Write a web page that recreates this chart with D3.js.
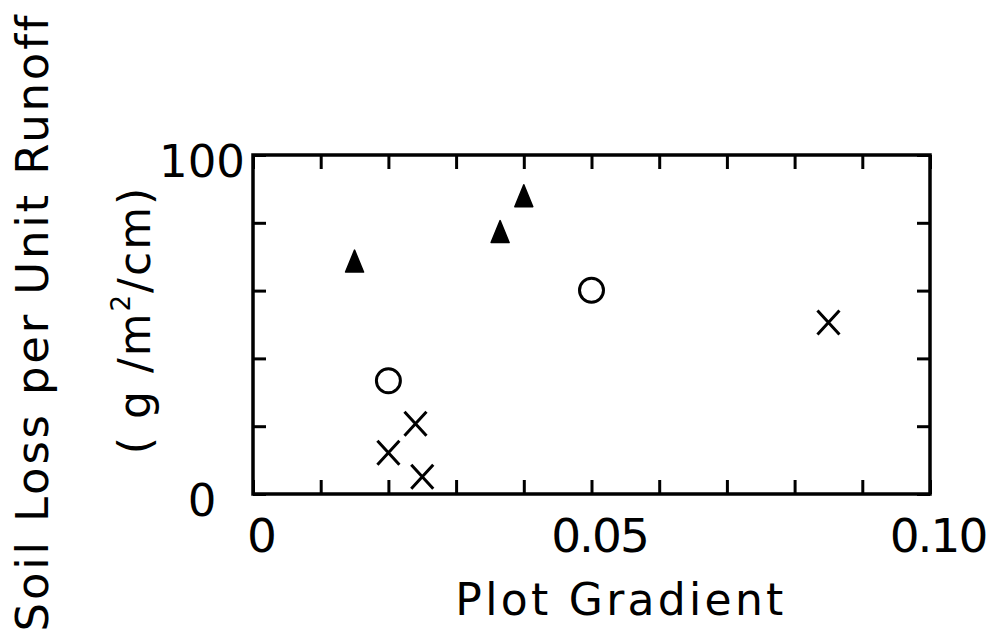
<!DOCTYPE html>
<html>
<head>
<meta charset="utf-8">
<script src="https://cdn.jsdelivr.net/npm/d3@7"></script>
<style>
  html, body { margin: 0; padding: 0; background: #fff; }
  svg { display: block; }
  text { font-family: "DejaVu Sans", sans-serif; fill: #000; }
</style>
</head>
<body>
<svg id="chart" width="987" height="634"></svg>
<script>
// Plot gradient (x) against soil loss per unit runoff (y), three groups of plots
const triangleX = [0.015, 0.0365, 0.040];
const triangleY = [68.7, 77.4, 88.0];
const circleX = [0.020, 0.050];
const circleY = [33.4, 60.1];
const crossX = [0.020, 0.024, 0.025, 0.085];
const crossY = [12.2, 20.7, 5.1, 50.6];

const xTickValues = [0, 0.01, 0.02, 0.03, 0.04, 0.05, 0.06, 0.07, 0.08, 0.09, 0.10];
const yTickValues = [0, 20, 40, 60, 80, 100];
const xLabelValues = [0, 0.05, 0.10];
const xLabelText = ["0", "0.05", "0.10"];
const yLabelValues = [0, 100];
const yLabelText = ["0", "100"];

const svg = d3.select("#chart");
const plotLeft = 253, plotRight = 930, plotTop = 155, plotBottom = 494;

const x = d3.scaleLinear().domain([0, 0.10]).range([plotLeft, plotRight]);
const y = d3.scaleLinear().domain([0, 100]).range([plotBottom, plotTop]);

// inward ticks on all four sides
function styleAxis(g) {
  g.selectAll(".domain").remove();
  g.selectAll(".tick text").remove();
  g.selectAll(".tick line").attr("stroke", "#000").attr("stroke-width", 3);
}
svg.append("g").attr("transform", `translate(0,${plotBottom})`)
  .call(d3.axisBottom(x).tickValues(xTickValues).tickSize(-14)).call(styleAxis);
svg.append("g").attr("transform", `translate(0,${plotTop})`)
  .call(d3.axisTop(x).tickValues(xTickValues).tickSize(-14)).call(styleAxis);
svg.append("g").attr("transform", `translate(${plotLeft},0)`)
  .call(d3.axisLeft(y).tickValues(yTickValues).tickSize(-13)).call(styleAxis);
svg.append("g").attr("transform", `translate(${plotRight},0)`)
  .call(d3.axisRight(y).tickValues(yTickValues).tickSize(-13)).call(styleAxis);

// frame
svg.append("rect")
  .attr("x", x(0)).attr("y", y(100))
  .attr("width", x(0.10) - x(0)).attr("height", y(0) - y(100))
  .attr("fill", "none").attr("stroke", "#000").attr("stroke-width", 3.5);

// tick labels
svg.selectAll(".xlab").data(xLabelValues).join("text")
  .attr("class", "xlab")
  .attr("x", d => x(d) + 8).attr("y", plotBottom + 58)
  .attr("text-anchor", "middle").attr("font-size", 47)
  .attr("letter-spacing", -2)
  .text((d, i) => xLabelText[i]);

svg.selectAll(".ylab").data(yLabelValues).join("text")
  .attr("class", "ylab")
  .attr("x", 202).attr("y", d => y(d) + 22)
  .attr("text-anchor", "middle").attr("font-size", 45)
  .text((d, i) => yLabelText[i]);

// axis titles
svg.append("text")
  .attr("x", 621).attr("y", 615)
  .attr("text-anchor", "middle").attr("font-size", 44)
  .attr("letter-spacing", 3.3)
  .text("Plot Gradient");

svg.append("text")
  .attr("transform", "translate(48,322) rotate(-90)")
  .attr("text-anchor", "middle").attr("font-size", 45)
  .attr("letter-spacing", 2.8)
  .text("Soil Loss per Unit Runoff");

const unit = svg.append("text")
  .attr("transform", "translate(150,320) rotate(-90)")
  .attr("text-anchor", "middle").attr("font-size", 44)
  .attr("letter-spacing", 2);
unit.append("tspan").text("( g /m");
unit.append("tspan").attr("font-size", 26).attr("dy", -20).text("2");
unit.append("tspan").attr("dy", 20).text("/cm)");

// markers
svg.selectAll(".tri").data(triangleX.map((v, i) => [v, triangleY[i]])).join("path")
  .attr("class", "tri")
  .attr("d", "M0,-11 L9,11 L-9,11 Z")
  .attr("transform", d => `translate(${x(d[0])},${y(d[1])})`)
  .attr("fill", "#000").attr("stroke", "#000").attr("stroke-width", 1.5)
  .attr("stroke-linejoin", "round");

svg.selectAll(".circ").data(circleX.map((v, i) => [v, circleY[i]])).join("circle")
  .attr("class", "circ")
  .attr("cx", d => x(d[0])).attr("cy", d => y(d[1])).attr("r", 12)
  .attr("fill", "none").attr("stroke", "#000").attr("stroke-width", 3);

svg.selectAll(".cross").data(crossX.map((v, i) => [v, crossY[i]])).join("path")
  .attr("class", "cross")
  .attr("d", "M-11,-12 L11,12 M-11,12 L11,-12")
  .attr("transform", d => `translate(${x(d[0])},${y(d[1])})`)
  .attr("fill", "none").attr("stroke", "#000").attr("stroke-width", 3);
</script>
</body>
</html>
